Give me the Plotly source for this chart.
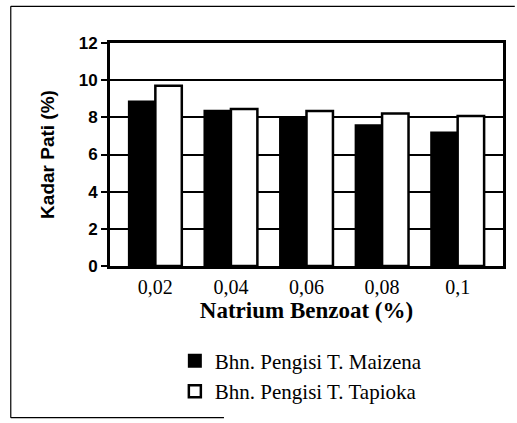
import plotly.graph_objects as go

categories = ["0,02", "0,04", "0,06", "0,08", "0,1"]
maizena = [8.85, 8.35, 7.95, 7.57, 7.18]
tapioka = [9.7, 8.45, 8.34, 8.2, 8.07]
y_ticks = [0, 2, 4, 6, 8, 10, 12]

SERIF = "Liberation Serif"
SANS = "Liberation Sans"

fig = go.Figure()
fig.add_trace(go.Bar(
    x=categories, y=maizena, name="Bhn. Pengisi T. Maizena",
    marker=dict(color="black", line=dict(color="black", width=2)),
))
fig.add_trace(go.Bar(
    x=categories, y=tapioka, name="Bhn. Pengisi T. Tapioka",
    marker=dict(color="white", line=dict(color="black", width=2.5)),
))

fig.update_layout(
    width=517, height=423,
    margin=dict(l=110, r=11, t=43, b=155),
    paper_bgcolor="white", plot_bgcolor="white",
    barmode="group", bargap=0.3, bargroupgap=0,
    showlegend=True,
    legend=dict(
        x=0.165, y=-0.335, xanchor="left", yanchor="top",
        font=dict(family=SERIF, size=21, color="black"),
        bgcolor="rgba(0,0,0,0)", tracegroupgap=0,
    ),
    xaxis=dict(
        range=[-0.6, 4.6],
        showline=True, linecolor="black", linewidth=3, mirror=True,
        ticks="", ticklabelstandoff=1,
        tickfont=dict(family=SERIF, size=20, color="black"),
        title=dict(text="<b>Natrium Benzoat (%)</b>", standoff=4,
                   font=dict(family=SERIF, size=23, color="black")),
    ),
    yaxis=dict(
        range=[0, 12], tickvals=y_ticks,
        showline=True, linecolor="black", linewidth=3, mirror=True,
        showgrid=True, gridcolor="black", gridwidth=1.5,
        ticks="outside", ticklen=6, tickcolor="black", tickwidth=1.5,
        tickfont=dict(family=SANS, size=17, color="black", weight="bold"),
        title=dict(text="<b>Kadar Pati (%)</b>", standoff=20,
                   font=dict(family=SANS, size=19, color="black")),
    ),
    shapes=[
        dict(type="line", xref="paper", yref="paper",
             x0=-0.2525, x1=-0.2525, y0=-0.68, y1=1.1644,
             line=dict(color="black", width=1.2)),
        dict(type="line", xref="paper", yref="paper",
             x0=-0.2525, x1=1.03, y0=1.1644, y1=1.1644,
             line=dict(color="black", width=1.2)),
        dict(type="line", xref="paper", yref="paper",
             x0=-0.2525, x1=0.29, y0=-0.68, y1=-0.68,
             line=dict(color="black", width=1.2)),
    ],
)

fig.write_html(
    "out.html",
    config={"displayModeBar": False},
    post_script="document.body.style.margin='0';",
)
